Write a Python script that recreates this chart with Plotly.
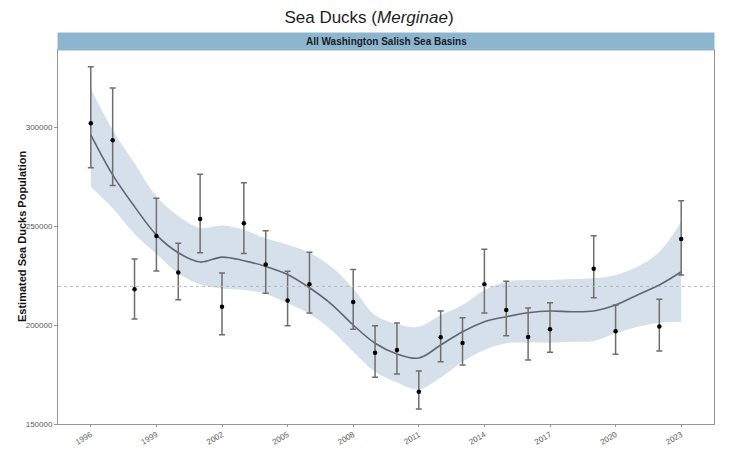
import plotly.graph_objects as go

# --- observed estimates with error bars ---
years = [1996, 1997, 1998, 1999, 2000, 2001, 2002, 2003, 2004, 2005, 2006, 2008,
         2009, 2010, 2011, 2012, 2013, 2014, 2015, 2016, 2017, 2019, 2020, 2022, 2023]
estimate = [301900, 293300, 218000, 244900, 226500, 253500, 209200, 251400, 230600,
            212400, 220600, 211600, 186000, 187400, 166300, 193800, 190900, 220600,
            207600, 193900, 197800, 228400, 196900, 199300, 243400]
upper_ci = [330500, 319700, 233400, 264000, 241300, 276100, 226300, 271900, 247600,
            227200, 236800, 228000, 199600, 201000, 176800, 207100, 203700, 238200,
            222100, 208600, 211300, 245100, 210100, 213000, 262800]
lower_ci = [279400, 270400, 203000, 227300, 212700, 236500, 195100, 236100, 216000,
            199600, 206100, 197800, 173600, 175300, 157600, 181500, 179800, 206100,
            194600, 182300, 186200, 213800, 185200, 186900, 225300]

# --- smoothed trend and its band ---
trend_years = list(range(1996, 2024))
trend = [296000, 275800, 259800, 245500, 236500, 231800, 234300, 232500, 229600,
         225500, 218800, 210600, 200000, 190800, 185400, 183300, 189900, 196600,
         201700, 204200, 206200, 207100, 206700, 207100, 210100, 215200, 220200, 226900]
trend_hi = [319500, 298500, 281700, 265000, 255000, 249000, 250200, 248000, 243800,
            240500, 236500, 229400, 218500, 205000, 200500, 199100, 205000, 210100,
            217700, 221900, 222700, 222700, 223200, 223600, 225300, 229400, 237000, 252200]
trend_lo = [269800, 259000, 246000, 236000, 226000, 220500, 218500, 217700, 215700,
            211000, 205500, 197500, 186500, 176400, 171000, 167500, 173500, 181500,
            187400, 190800, 191100, 191000, 191500, 191900, 195800, 199100, 201200, 201700]

mean_line = 219500
x_ticks = [1996, 1999, 2002, 2005, 2008, 2011, 2014, 2017, 2020, 2023]
y_ticks = [150000, 200000, 250000, 300000]

fig = go.Figure()

fig.add_trace(go.Scatter(
    x=trend_years, y=trend_hi, mode="lines", line=dict(width=0, shape="spline"),
    hoverinfo="skip", showlegend=False))
fig.add_trace(go.Scatter(
    x=trend_years, y=trend_lo, mode="lines", line=dict(width=0, shape="spline"),
    fill="tonexty", fillcolor="rgb(214,224,234)", hoverinfo="skip", showlegend=False))
fig.add_trace(go.Scatter(
    x=trend_years, y=trend, mode="lines",
    line=dict(color="rgb(95,102,118)", width=1.6, shape="spline"), showlegend=False))

fig.add_trace(go.Scatter(
    x=years, y=estimate, mode="markers",
    marker=dict(color="black", size=4.5),
    error_y=dict(type="data", symmetric=False,
                 array=[u - e for u, e in zip(upper_ci, estimate)],
                 arrayminus=[e - l for e, l in zip(estimate, lower_ci)],
                 color="rgb(110,110,110)", thickness=1.5, width=3),
    showlegend=False))

fig.add_hline(y=mean_line, line=dict(color="rgb(185,185,185)", width=1, dash="dot"))

# page body adds an 8px offset; figure is sized so the plot lands where the reference has it
W, H = 722, 447
L, R, T, B = 50, 16, 42, 31
plot_w = W - L - R
plot_h = H - T - B
fig.add_shape(type="rect", xref="paper", yref="paper", x0=0, x1=1,
              y0=1, y1=1 + 17 / plot_h, fillcolor="rgb(141,181,206)",
              line=dict(color="rgb(141,181,206)", width=1), layer="above")
fig.add_annotation(xref="paper", yref="paper", x=0.5, y=1 + 8.5 / plot_h,
                   text="<b>All Washington Salish Sea Basins</b>", showarrow=False,
                   font=dict(size=10, color="rgb(25,30,40)"), yanchor="middle")
fig.add_annotation(xref="paper", yref="paper", x=(14 - L) / plot_w, y=0.5,
                   text="<b>Estimated Sea Ducks Population</b>", showarrow=False,
                   textangle=-90, xanchor="center", yanchor="middle",
                   font=dict(size=11, color="rgb(20,20,20)"))

fig.update_layout(
    width=W, height=H,
    margin=dict(l=L, r=R, t=T, b=B, autoexpand=False),
    paper_bgcolor="white", plot_bgcolor="white",
    font=dict(family="Liberation Sans, Arial, sans-serif", color="rgb(60,60,60)"),
    title=dict(text="Sea Ducks (<i>Merginae</i>)", x=0.5, xanchor="center",
               y=1 - 9 / H, yanchor="middle", yref="container",
               font=dict(size=17, color="rgb(30,30,30)")),
    xaxis=dict(range=[1994.5, 2024.5], tickvals=x_ticks, ticktext=[str(t) for t in x_ticks],
               tickangle=-30, tickfont=dict(size=8, color="rgb(90,90,90)"),
               ticks="outside", ticklen=2, tickcolor="rgb(150,150,150)", automargin=False,
               showgrid=False, zeroline=False, showline=True, linecolor="rgb(150,150,150)",
               linewidth=1, mirror=True),
    yaxis=dict(range=[150000, 338900], tickvals=y_ticks, ticktext=[str(t) for t in y_ticks],
               tickfont=dict(size=8, color="rgb(90,90,90)"), automargin=False,
               ticks="outside", ticklen=3, tickcolor="rgb(150,150,150)",
               showgrid=False, zeroline=False, showline=True, linecolor="rgb(150,150,150)",
               linewidth=1, mirror=True),
)

fig.write_html("out.html")
